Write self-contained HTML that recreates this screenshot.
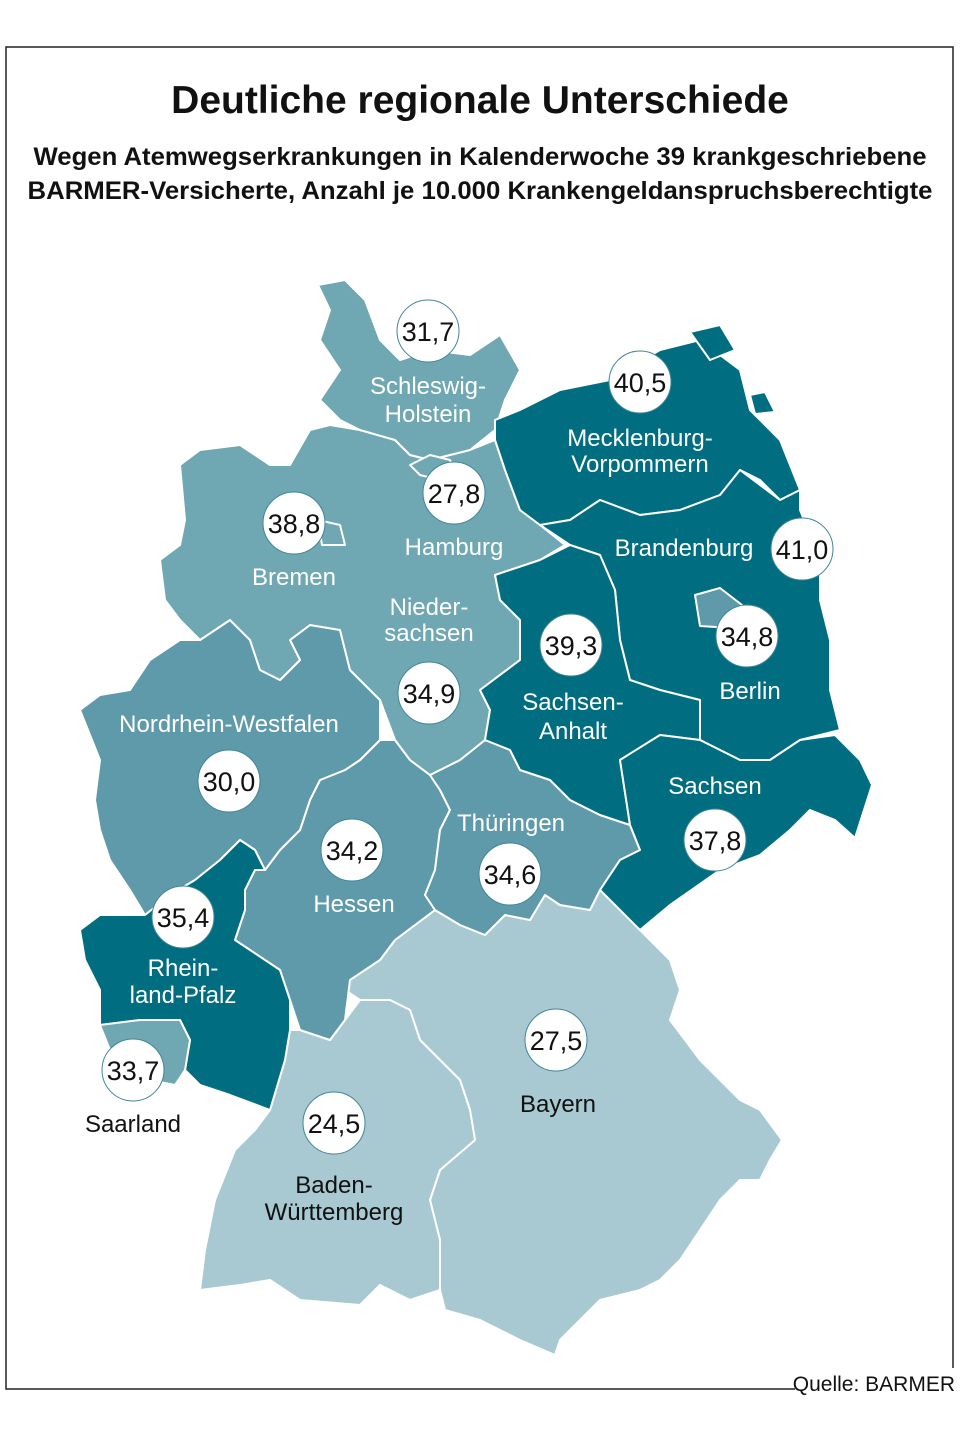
<!DOCTYPE html>
<html><head><meta charset="utf-8"><style>
body{margin:0;background:#fff;width:960px;height:1440px;overflow:hidden;font-family:"Liberation Sans",sans-serif}
</style></head><body>
<svg width="960" height="1440" viewBox="0 0 960 1440" xmlns="http://www.w3.org/2000/svg" font-family="Liberation Sans, sans-serif">
<polyline points="795,1389 6,1389 6,47 953,47 953,1368" fill="none" stroke="#222" stroke-width="1.5"/>
<text x="480" y="113" text-anchor="middle" font-size="39" font-weight="bold" fill="#111">Deutliche regionale Unterschiede</text>
<text x="480" y="165" text-anchor="middle" font-size="25" font-weight="bold" fill="#111" textLength="893" lengthAdjust="spacingAndGlyphs">Wegen Atemwegserkrankungen in Kalenderwoche 39 krankgeschriebene</text>
<text x="480" y="199" text-anchor="middle" font-size="25" font-weight="bold" fill="#111" textLength="905" lengthAdjust="spacingAndGlyphs">BARMER-Versicherte, Anzahl je 10.000 Krankengeldanspruchsberechtigte</text>
<text x="955" y="1391" text-anchor="end" font-size="21" fill="#111">Quelle: BARMER</text>
<g stroke="#fff" stroke-width="2" stroke-linejoin="round">
<polygon fill="#a8c9d1" points="340,960 380,960 395,940 415,925 435,910 460,925 485,935 505,915 530,920 545,895 560,905 590,910 600,890 640,930 670,960 680,990 670,1020 700,1060 720,1080 740,1100 760,1110 782,1140 770,1160 760,1180 740,1180 720,1200 700,1230 680,1260 660,1280 640,1290 600,1300 560,1340 555,1355 520,1340 480,1320 445,1310 440,1290 440,1240 430,1200 440,1170 475,1140 470,1110 460,1080 440,1060 420,1040 410,1010 390,1000 360,1000 345,990"/>
<polygon fill="#a8c9d1" points="290,1030 300,1030 330,1040 345,1020 360,1000 390,1000 410,1010 420,1040 440,1060 460,1080 470,1110 475,1140 440,1170 430,1200 440,1240 440,1290 410,1300 380,1285 360,1305 300,1300 270,1280 240,1285 200,1290 205,1250 215,1200 235,1150 255,1130 270,1110 285,1060"/>
<polygon fill="#5e9aa9" points="310,800 320,780 345,770 360,760 380,740 395,740 410,760 430,775 440,790 450,810 440,830 435,870 425,895 435,910 415,925 395,940 380,960 350,980 345,1020 330,1040 300,1030 290,1000 280,970 250,950 235,940 245,910 245,890 255,870 265,870 280,850 300,830"/>
<polygon fill="#5e9aa9" points="430,775 460,760 485,740 510,750 520,770 550,780 570,800 600,815 630,825 640,850 620,860 600,890 590,910 560,905 545,895 530,920 505,915 485,935 460,925 435,910 425,895 435,870 440,830 450,810 440,790"/>
<polygon fill="#5e9aa9" points="150,660 180,640 200,640 230,620 250,640 260,670 280,680 300,660 290,640 310,625 340,630 350,670 380,700 380,740 360,760 345,770 320,780 310,800 300,830 280,850 265,870 255,850 240,840 220,860 195,880 170,895 145,915 130,890 110,860 100,830 95,800 100,760 80,710 100,695 130,690"/>
<polygon fill="#6fa7b3" points="180,465 200,450 240,445 270,465 290,465 310,430 330,425 360,430 395,440 410,455 430,460 470,450 495,440 505,470 520,510 540,525 565,545 540,560 495,575 500,600 520,620 520,660 480,690 490,710 485,740 460,760 430,775 410,760 395,740 380,700 350,670 340,630 310,625 290,640 300,660 280,680 260,670 250,640 230,620 200,640 180,620 165,600 160,560 180,545 185,520"/>
<polygon fill="#6fa7b3" points="318,285 345,280 365,300 380,340 400,360 430,350 470,355 500,335 520,370 505,400 495,430 470,450 430,460 410,455 395,440 360,430 340,420 320,400 340,370 320,340 330,310"/>
<polygon fill="#6fa7b3" points="410,465 430,455 450,460 455,475 440,480 420,475"/>
<polygon fill="#6fa7b3" points="318,520 340,525 345,545 322,545"/>
<polygon fill="#006e80" points="495,420 520,410 560,390 610,380 660,350 700,340 740,370 750,410 780,440 800,490 780,500 760,480 740,470 720,495 680,510 640,515 600,500 570,520 540,525 520,510 505,470 495,440"/>
<polygon fill="#006e80" points="690,332 720,325 735,350 710,360"/>
<polygon fill="#006e80" points="750,395 765,392 775,412 755,414"/>
<polygon fill="#006e80" points="540,525 570,520 600,500 640,515 680,510 720,495 740,470 780,500 800,490 800,510 820,560 820,600 830,640 830,690 840,730 800,740 770,760 740,760 700,740 700,700 660,690 630,680 620,640 615,590 600,555 570,545"/>
<polygon fill="#5e9aa9" points="695,595 720,588 742,605 732,628 700,626"/>
<polygon fill="#006e80" points="495,575 540,560 570,545 600,555 615,590 620,640 630,680 660,690 700,700 700,740 660,735 620,760 630,825 600,815 570,800 550,780 520,770 510,750 485,740 490,710 480,690 520,660 520,620 500,600"/>
<polygon fill="#006e80" points="620,760 660,735 700,740 740,760 770,760 800,740 835,735 860,760 872,785 855,838 835,820 810,810 790,830 760,855 720,870 670,905 640,930 600,890 620,860 640,850 630,825"/>
<polygon fill="#006e80" points="100,915 145,915 170,895 195,880 220,860 240,840 255,850 265,870 255,870 245,890 245,910 235,940 250,950 280,970 290,1000 290,1030 285,1060 270,1110 230,1095 200,1085 185,1070 190,1040 180,1020 140,1020 100,1025 100,990 85,960 80,930"/>
<polygon fill="#6fa7b3" points="100,1025 140,1020 180,1020 190,1040 185,1070 175,1085 150,1080 130,1070 110,1050"/>
</g>
<g fill="#fff" stroke="#3f8595" stroke-width="1">
<circle cx="428" cy="331" r="31"/><circle cx="640" cy="382" r="31"/><circle cx="454" cy="493" r="31"/>
<circle cx="294" cy="523" r="31"/><circle cx="802" cy="549" r="31"/><circle cx="571" cy="645" r="31"/>
<circle cx="747" cy="636" r="31"/><circle cx="429" cy="693" r="31"/><circle cx="229" cy="781" r="31"/>
<circle cx="352" cy="850" r="31"/><circle cx="510" cy="874" r="31"/><circle cx="715" cy="840" r="31"/>
<circle cx="183" cy="917" r="31"/><circle cx="133" cy="1070" r="31"/><circle cx="556" cy="1040" r="31"/>
<circle cx="334" cy="1123" r="31"/>
</g>
<g font-size="27" text-anchor="middle" fill="#111">
<text x="428" y="341">31,7</text><text x="640" y="392">40,5</text><text x="454" y="503">27,8</text>
<text x="294" y="533">38,8</text><text x="802" y="559">41,0</text><text x="571" y="655">39,3</text>
<text x="747" y="646">34,8</text><text x="429" y="703">34,9</text><text x="229" y="791">30,0</text>
<text x="352" y="860">34,2</text><text x="510" y="884">34,6</text><text x="715" y="850">37,8</text>
<text x="183" y="927">35,4</text><text x="133" y="1080">33,7</text><text x="556" y="1050">27,5</text>
<text x="334" y="1133">24,5</text>
</g>
<g font-size="24" text-anchor="middle" fill="#fff">
<text x="428" y="394">Schleswig-</text><text x="428" y="422">Holstein</text>
<text x="640" y="446">Mecklenburg-</text><text x="640" y="472">Vorpommern</text>
<text x="454" y="555">Hamburg</text><text x="294" y="585">Bremen</text>
<text x="684" y="556">Brandenburg</text>
<text x="429" y="615">Nieder-</text><text x="429" y="641">sachsen</text>
<text x="573" y="710">Sachsen-</text><text x="573" y="739">Anhalt</text>
<text x="750" y="699">Berlin</text>
<text x="229" y="732">Nordrhein-Westfalen</text>
<text x="715" y="794">Sachsen</text>
<text x="511" y="831">Thüringen</text>
<text x="354" y="912">Hessen</text>
<text x="183" y="976">Rhein-</text><text x="183" y="1003">land-Pfalz</text>
</g>
<g font-size="24" text-anchor="middle" fill="#111">
<text x="133" y="1132">Saarland</text>
<text x="558" y="1112">Bayern</text>
<text x="334" y="1193">Baden-</text><text x="334" y="1220">Württemberg</text>
</g>
</svg>
</body></html>
